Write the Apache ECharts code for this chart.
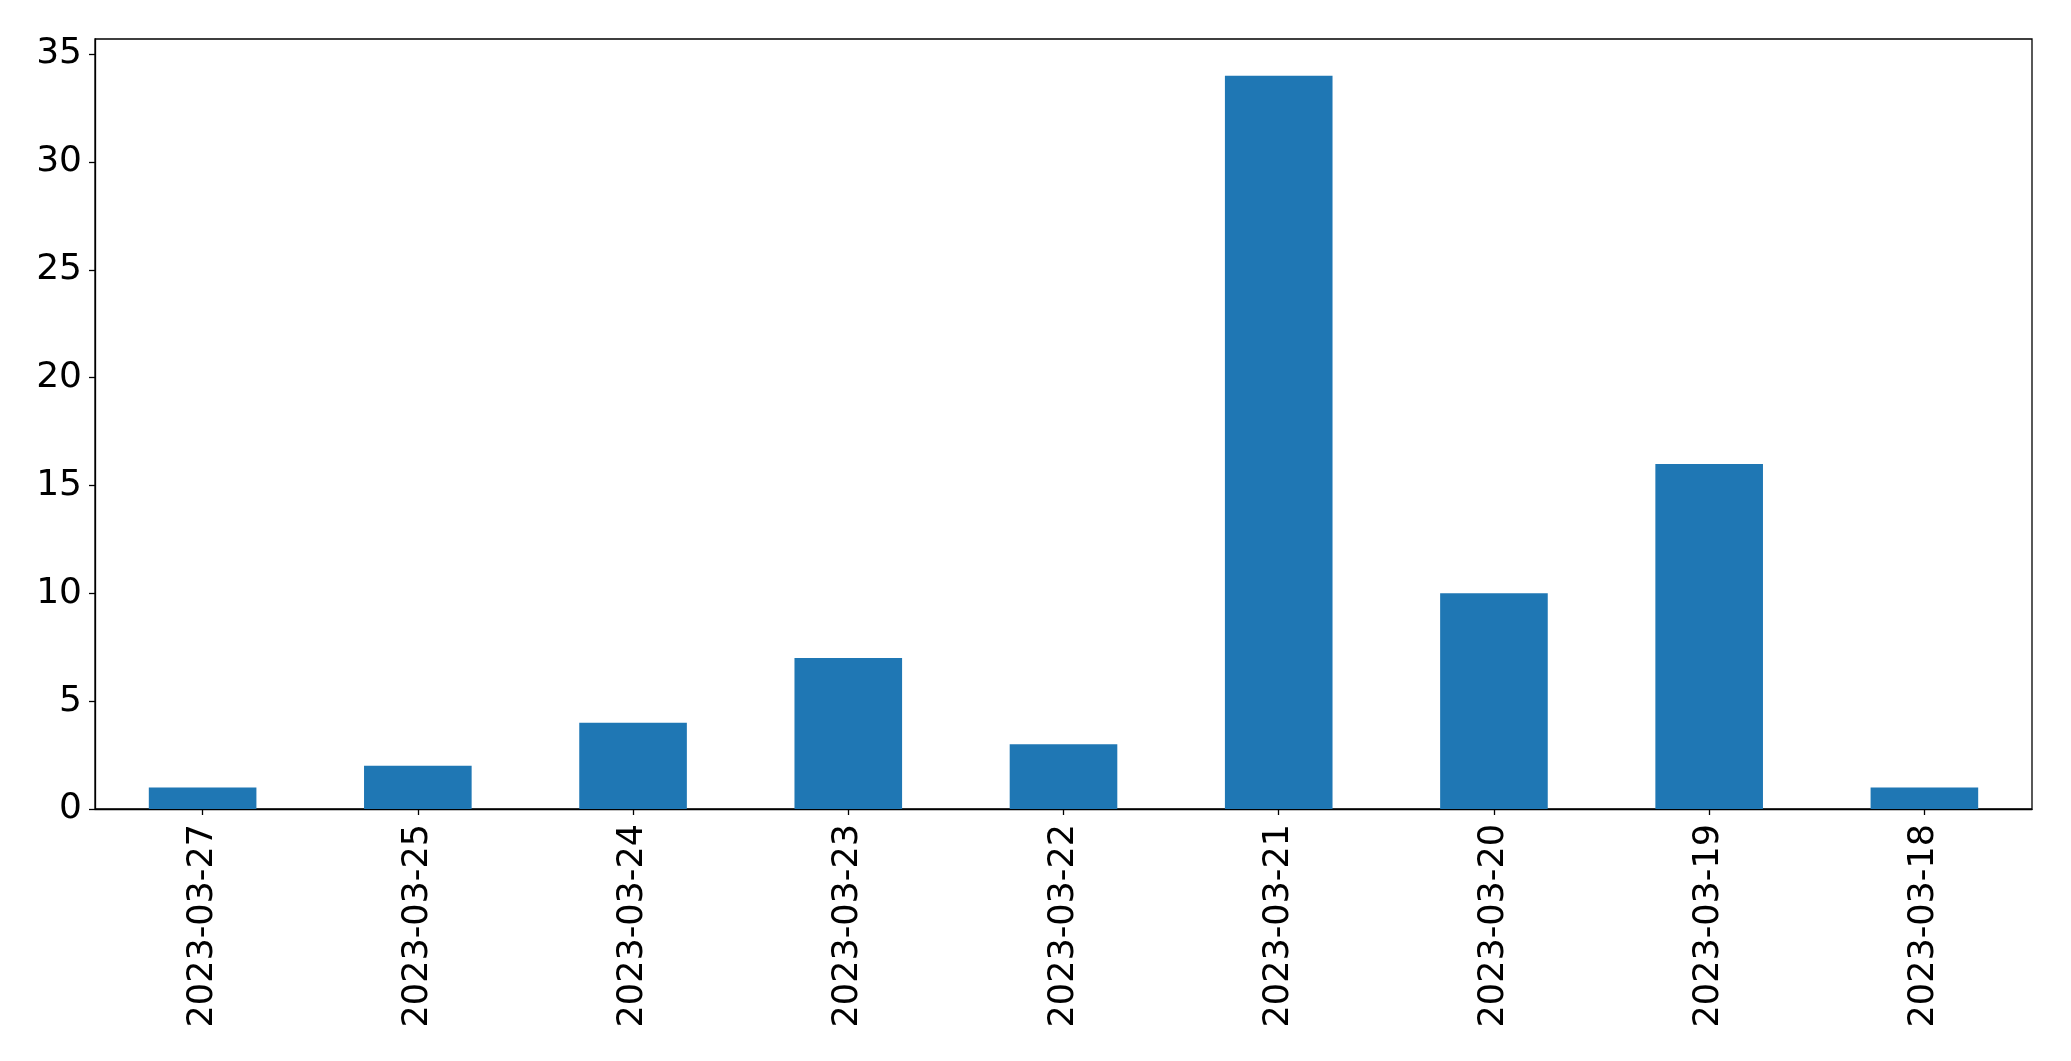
<!DOCTYPE html>
<html>
<head>
<meta charset="utf-8">
<script src="https://cdn.jsdelivr.net/npm/echarts@6/dist/echarts.min.js"></script>
<style>
html,body{margin:0;padding:0;background:#fff;}
#chart{width:2071px;height:1061px;}
</style>
</head>
<body>
<div id="chart"></div>
<script>
const categories = ["2023-03-27","2023-03-25","2023-03-24","2023-03-23","2023-03-22","2023-03-21","2023-03-20","2023-03-19","2023-03-18"];
const counts = [1, 2, 4, 7, 3, 34, 10, 16, 1];
const yTicks = [0, 5, 10, 15, 20, 25, 30, 35];

const chart = echarts.init(document.getElementById('chart'), null, {renderer: 'canvas'});
const font = 'DejaVu Sans';
chart.setOption({
  animation: false,
  backgroundColor: '#ffffff',
  grid: {left: 95, top: 39, right: 39, bottom: 252, show: true, borderColor: '#000', borderWidth: 1.3, backgroundColor: 'transparent'},
  xAxis: {
    type: 'category',
    data: categories,
    boundaryGap: true,
    axisLine: {show: true, lineStyle: {color: '#000', width: 1.3}},
    axisTick: {show: true, alignWithLabel: true, length: 6, lineStyle: {color: '#000', width: 1.3}},
    axisLabel: {rotate: 90, margin: 15, color: '#000', fontFamily: font, fontSize: 35, interval: 0},
    splitLine: {show: false}
  },
  yAxis: {
    type: 'value',
    min: 0,
    max: 35.7,
    interval: 5,
    axisLine: {show: true, lineStyle: {color: '#000', width: 1.3}},
    axisTick: {show: true, length: 6, customValues: yTicks, lineStyle: {color: '#000', width: 1.3}},
    axisLabel: {margin: 13, color: '#000', fontFamily: font, fontSize: 36, customValues: yTicks, padding: [4, 0, 0, 0]},
    splitLine: {show: false}
  },
  series: [{
    type: 'bar',
    data: counts,
    barWidth: '50%',
    itemStyle: {color: '#1f77b4'}
  }]
});
</script>
</body>
</html>
